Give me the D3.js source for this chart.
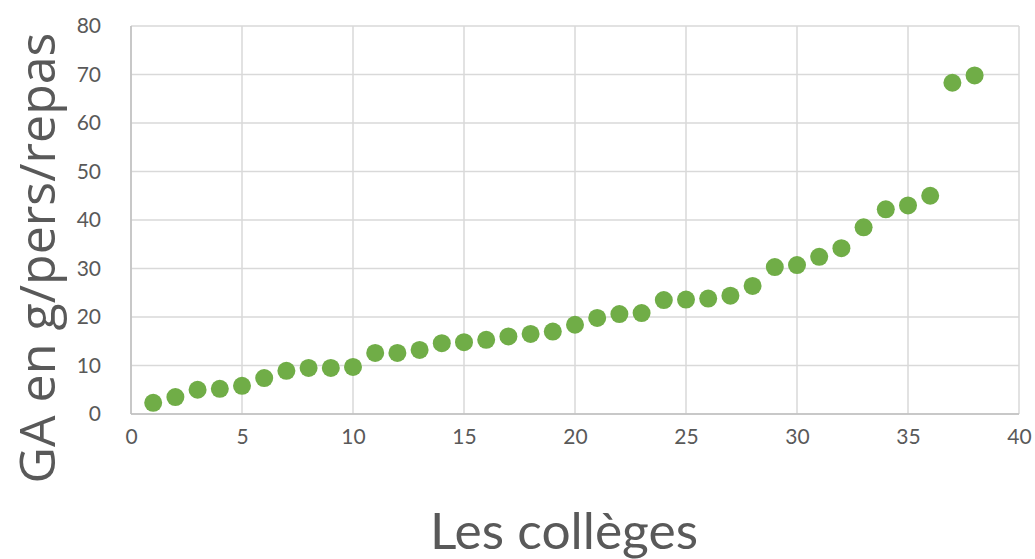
<!DOCTYPE html>
<html><head><meta charset="utf-8">
<script src="https://cdn.jsdelivr.net/npm/d3@7"></script>
<style>html,body{margin:0;padding:0;background:#fff;}</style>
</head><body>
<script>
const colleges = d3.range(1, 39);
const gaValues = [2.3,3.5,5.0,5.2,5.8,7.4,8.9,9.5,9.5,9.7,12.6,12.6,13.2,14.6,14.8,15.3,16.0,16.5,17.0,18.4,19.8,20.6,20.8,23.5,23.6,23.8,24.4,26.4,30.3,30.7,32.4,34.2,38.5,42.2,43.0,45.0,68.3,69.8];
const xTicks = [0,5,10,15,20,25,30,35,40];
const yTicks = [0,10,20,30,40,50,60,70,80];
const xTitle = "Les collèges";
const yTitle = "GA en g/pers/repas";

const W = 1035, H = 559;
const svg = d3.select("body").append("svg").attr("width", W).attr("height", H);
const x = d3.scaleLinear().domain([0,40]).range([131,1019]);
const y = d3.scaleLinear().domain([0,80]).range([414,26]);

const grid = svg.append("g");
grid.selectAll("line.h").data(yTicks).join("line")
  .attr("x1", x(0)).attr("x2", x(40)).attr("y1", d=>y(d)).attr("y2", d=>y(d))
  .attr("stroke", "#d9d9d9").attr("stroke-width", 1.5);
grid.selectAll("line.v").data(xTicks).join("line")
  .attr("y1", y(0)).attr("y2", y(80)).attr("x1", d=>x(d)).attr("x2", d=>x(d))
  .attr("stroke", "#d9d9d9").attr("stroke-width", 1.5);
svg.append("line").attr("x1", x(0)).attr("x2", x(0)).attr("y1", y(0)).attr("y2", y(80)).attr("stroke","#bfbfbf").attr("stroke-width",1.5);
svg.append("line").attr("x1", x(0)).attr("x2", x(40)).attr("y1", y(0)).attr("y2", y(0)).attr("stroke","#bfbfbf").attr("stroke-width",1.5);

const xAxis = d3.axisBottom(x).tickValues(xTicks).tickSize(0).tickPadding(0);
svg.append("g").attr("transform", `translate(0,${y(0)+30})`).call(xAxis)
  .call(g=>g.select(".domain").remove())
  .call(g=>g.selectAll("text").attr("fill","#595959").attr("font-size",21).attr("font-family","Lato, 'Open Sans', sans-serif").attr("dy","0"));
const yAxis = d3.axisLeft(y).tickValues(yTicks).tickSize(0).tickPadding(0);
svg.append("g").attr("transform", `translate(101,0)`).call(yAxis)
  .call(g=>g.select(".domain").remove())
  .call(g=>g.selectAll("text").attr("fill","#595959").attr("font-size",21).attr("font-family","Lato, 'Open Sans', sans-serif"));

svg.append("g").selectAll("circle").data(colleges).join("circle")
  .attr("cx", (d)=>x(d)).attr("cy", (d,i)=>y(gaValues[i])).attr("r", 9)
  .attr("fill", "#70ad47");

svg.append("text").text(xTitle).attr("x", 564).attr("y", 549)
  .attr("text-anchor","middle").attr("fill","#595959").attr("font-size",50)
  .attr("font-family","Lato, 'Open Sans', sans-serif")
  .attr("textLength", 268).attr("lengthAdjust","spacingAndGlyphs");
svg.append("text").text(yTitle)
  .attr("transform","translate(55,258) rotate(-90)")
  .attr("text-anchor","middle").attr("fill","#595959").attr("font-size",50)
  .attr("font-family","'Open Sans', sans-serif")
  .attr("textLength", 451).attr("lengthAdjust","spacingAndGlyphs");
</script>
</body></html>
